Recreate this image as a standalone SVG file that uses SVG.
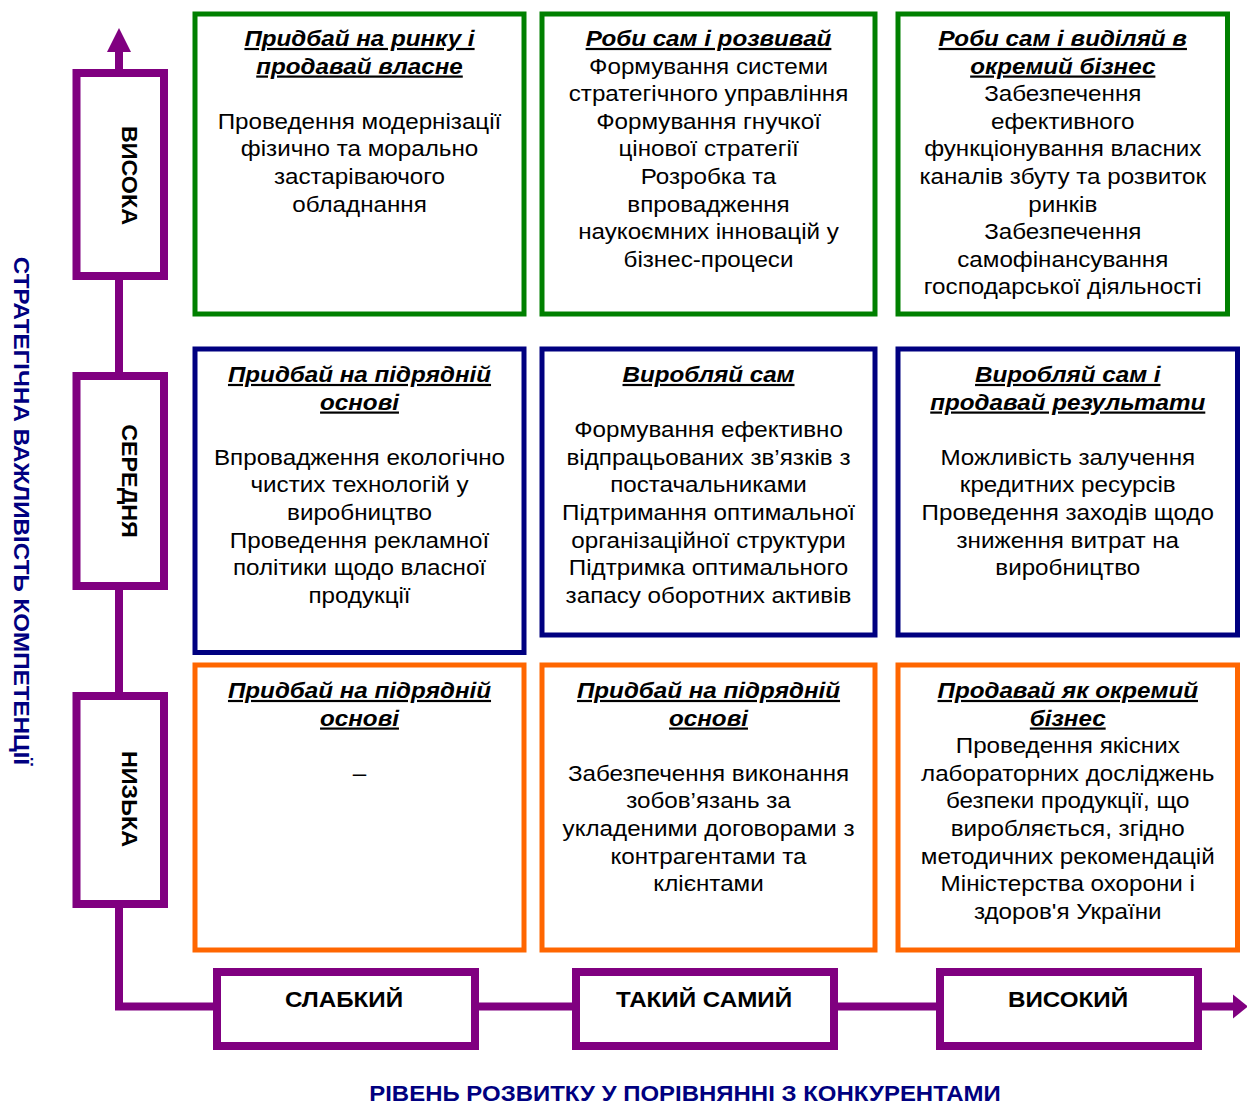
<svg xmlns="http://www.w3.org/2000/svg" width="1247" height="1104" viewBox="0 0 1247 1104">
<style>
.t{font-family:"Liberation Sans",Arial,sans-serif;font-size:22px;text-anchor:middle;fill:#000}
.h{font-weight:bold;font-style:italic;text-decoration:underline}
.b{font-family:"Liberation Sans",Arial,sans-serif;font-weight:bold;font-size:22px;text-anchor:middle;fill:#000}
.ax{font-family:"Liberation Sans",Arial,sans-serif;font-weight:bold;font-size:22px;text-anchor:middle;fill:#000080}
.g{fill:#fff;stroke:#008000;stroke-width:5}
.n{fill:#fff;stroke:#000080;stroke-width:5}
.o{fill:#fff;stroke:#FF6600;stroke-width:5}
.p{fill:#fff;stroke:#800080;stroke-width:8}
.ln{stroke:#800080;stroke-width:8;fill:none}
</style>
<rect width="1247" height="1104" fill="#fff"/>
<g id="connectors">
<line class="ln" x1="119" y1="50" x2="119" y2="1006.5"/>
<line class="ln" x1="115" y1="1006.5" x2="1235" y2="1006.5"/>
<polygon points="119,28 131,52 107,52" fill="#800080"/>
<polygon points="1248,1006.5 1233,994.5 1233,1018.5" fill="#800080"/>
</g>
<g id="axis-high"><rect class="p" x="76.5" y="73" width="87.5" height="203"/><text class="b" transform="translate(122,175.5) rotate(90) scale(1.06,1)">ВИСОКА</text></g>
<g id="axis-mid"><rect class="p" x="76.5" y="376" width="87.5" height="210"/><text class="b" transform="translate(122,481) rotate(90) scale(1.06,1)">СЕРЕДНЯ</text></g>
<g id="axis-low"><rect class="p" x="76.5" y="696" width="87.5" height="208"/><text class="b" transform="translate(122,799) rotate(90) scale(1.06,1)">НИЗЬКА</text></g>
<g id="level-weak"><rect class="p" x="217" y="972" width="258" height="74"/><text class="b" transform="translate(344,1007) scale(1.1,1)">СЛАБКИЙ</text></g>
<g id="level-same"><rect class="p" x="576" y="972" width="258" height="74"/><text class="b" transform="translate(704,1007) scale(1.1,1)">ТАКИЙ САМИЙ</text></g>
<g id="level-high"><rect class="p" x="940" y="972" width="258" height="74"/><text class="b" transform="translate(1068,1007) scale(1.1,1)">ВИСОКИЙ</text></g>
<g id="label-y"><text class="ax" transform="translate(14,511) rotate(90) scale(1.1,1)">СТРАТЕГІЧНА ВАЖЛИВІСТЬ КОМПЕТЕНЦІЇ</text></g>
<g id="label-x"><text class="ax" transform="translate(685,1101) scale(1.09,1)">РІВЕНЬ РОЗВИТКУ У ПОРІВНЯННІ З КОНКУРЕНТАМИ</text></g>

<g id="cell-1-1"><rect class="g" x="195" y="14" width="329" height="300"/>
<text class="t" transform="translate(359.5,46) scale(1.1,1)"><tspan class="h" x="0">Придбай на ринку і</tspan><tspan class="h" x="0" dy="27.6">продавай власне</tspan><tspan x="0" dy="55.2">Проведення модернізації</tspan><tspan x="0" dy="27.6">фізично та морально</tspan><tspan x="0" dy="27.6">застаріваючого</tspan><tspan x="0" dy="27.6">обладнання</tspan></text></g>
<g id="cell-1-2"><rect class="g" x="542" y="14" width="333" height="300"/>
<text class="t" transform="translate(708.5,46) scale(1.1,1)"><tspan class="h" x="0">Роби сам і розвивай</tspan><tspan x="0" dy="27.6">Формування системи</tspan><tspan x="0" dy="27.6">стратегічного управління</tspan><tspan x="0" dy="27.6">Формування гнучкої</tspan><tspan x="0" dy="27.6">цінової стратегії</tspan><tspan x="0" dy="27.6">Розробка та</tspan><tspan x="0" dy="27.6">впровадження</tspan><tspan x="0" dy="27.6">наукоємних інновацій у</tspan><tspan x="0" dy="27.6">бізнес-процеси</tspan></text></g>
<g id="cell-1-3"><rect class="g" x="898" y="14" width="329.5" height="300"/>
<text class="t" transform="translate(1062.75,46) scale(1.1,1)"><tspan class="h" x="0">Роби сам і виділяй в</tspan><tspan class="h" x="0" dy="27.6">окремий бізнес</tspan><tspan x="0" dy="27.6">Забезпечення</tspan><tspan x="0" dy="27.6">ефективного</tspan><tspan x="0" dy="27.6">функціонування власних</tspan><tspan x="0" dy="27.6">каналів збуту та розвиток</tspan><tspan x="0" dy="27.6">ринків</tspan><tspan x="0" dy="27.6">Забезпечення</tspan><tspan x="0" dy="27.6">самофінансування</tspan><tspan x="0" dy="27.6">господарської діяльності</tspan></text></g>

<g id="cell-2-1"><rect class="n" x="195" y="349" width="329" height="303.5"/>
<text class="t" transform="translate(359.5,382) scale(1.1,1)"><tspan class="h" x="0">Придбай на підрядній</tspan><tspan class="h" x="0" dy="27.6">основі</tspan><tspan x="0" dy="55.2">Впровадження екологічно</tspan><tspan x="0" dy="27.6">чистих технологій у</tspan><tspan x="0" dy="27.6">виробництво</tspan><tspan x="0" dy="27.6">Проведення рекламної</tspan><tspan x="0" dy="27.6">політики щодо власної</tspan><tspan x="0" dy="27.6">продукції</tspan></text></g>
<g id="cell-2-2"><rect class="n" x="542" y="349" width="333" height="286"/>
<text class="t" transform="translate(708.5,382) scale(1.1,1)"><tspan class="h" x="0">Виробляй сам</tspan><tspan x="0" dy="55.2">Формування ефективно</tspan><tspan x="0" dy="27.6">відпрацьованих зв’язків з</tspan><tspan x="0" dy="27.6">постачальниками</tspan><tspan x="0" dy="27.6">Підтримання оптимальної</tspan><tspan x="0" dy="27.6">організаційної структури</tspan><tspan x="0" dy="27.6">Підтримка оптимального</tspan><tspan x="0" dy="27.6">запасу оборотних активів</tspan></text></g>
<g id="cell-2-3"><rect class="n" x="898" y="349" width="339.5" height="286"/>
<text class="t" transform="translate(1067.75,382) scale(1.1,1)"><tspan class="h" x="0">Виробляй сам і</tspan><tspan class="h" x="0" dy="27.6">продавай результати</tspan><tspan x="0" dy="55.2">Можливість залучення</tspan><tspan x="0" dy="27.6">кредитних ресурсів</tspan><tspan x="0" dy="27.6">Проведення заходів щодо</tspan><tspan x="0" dy="27.6">зниження витрат на</tspan><tspan x="0" dy="27.6">виробництво</tspan></text></g>

<g id="cell-3-1"><rect class="o" x="195" y="665" width="329" height="285"/>
<text class="t" transform="translate(359.5,698) scale(1.1,1)"><tspan class="h" x="0">Придбай на підрядній</tspan><tspan class="h" x="0" dy="27.6">основі</tspan><tspan x="0" dy="55.2">–</tspan></text></g>
<g id="cell-3-2"><rect class="o" x="542" y="665" width="333" height="285"/>
<text class="t" transform="translate(708.5,698) scale(1.1,1)"><tspan class="h" x="0">Придбай на підрядній</tspan><tspan class="h" x="0" dy="27.6">основі</tspan><tspan x="0" dy="55.2">Забезпечення виконання</tspan><tspan x="0" dy="27.6">зобов’язань за</tspan><tspan x="0" dy="27.6">укладеними договорами з</tspan><tspan x="0" dy="27.6">контрагентами та</tspan><tspan x="0" dy="27.6">клієнтами</tspan></text></g>
<g id="cell-3-3"><rect class="o" x="898" y="665" width="339.5" height="285"/>
<text class="t" transform="translate(1067.75,698) scale(1.1,1)"><tspan class="h" x="0">Продавай як окремий</tspan><tspan class="h" x="0" dy="27.6">бізнес</tspan><tspan x="0" dy="27.6">Проведення якісних</tspan><tspan x="0" dy="27.6">лабораторних досліджень</tspan><tspan x="0" dy="27.6">безпеки продукції, що</tspan><tspan x="0" dy="27.6">виробляється, згідно</tspan><tspan x="0" dy="27.6">методичних рекомендацій</tspan><tspan x="0" dy="27.6">Міністерства охорони і</tspan><tspan x="0" dy="27.6">здоров'я України</tspan></text></g>
</svg>
